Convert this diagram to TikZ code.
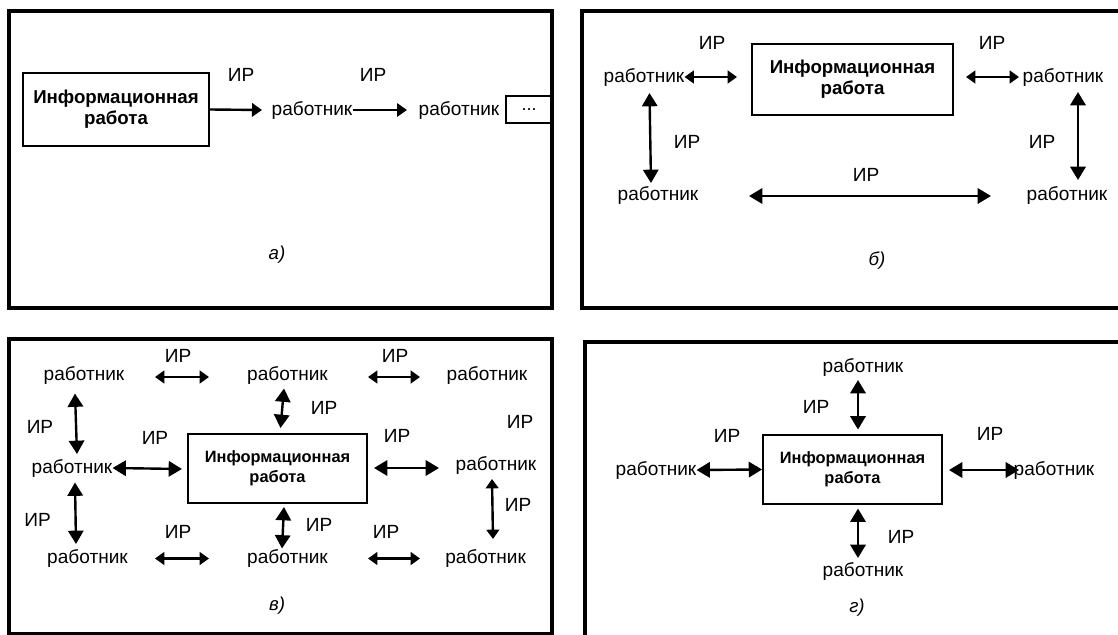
\documentclass[tikz,border=0pt]{standalone}
\usepackage{fontspec}
\setmainfont{Liberation Sans}
\usetikzlibrary{arrows.meta}

\tikzset{
  frame/.style={line width=2.3pt},
  infobox/.style={draw, line width=1.4pt, inner sep=0pt, align=center, font=\fontsize{14}{16}\selectfont\bfseries},
  infosmall/.style={infobox, font=\fontsize{12.3}{15}\selectfont\bfseries},
  worker/.style={inner sep=0pt, font=\fontsize{14.3}{16}\selectfont},
  ir/.style={worker},
  caption/.style={inner sep=0pt, font=\fontsize{14}{16}\selectfont\itshape},
  link/.style={line width=1.8pt, -{Triangle[length=7.5pt,width=10pt]}},
  both/.style={line width=1.8pt, {Triangle[length=7pt,width=9.5pt]}-{Triangle[length=7pt,width=9.5pt]}},
  bigboth/.style={line width=1.8pt, {Triangle[length=10pt,width=11.5pt]}-{Triangle[length=10pt,width=11.5pt]}}
}

\begin{document}
\begin{tikzpicture}[x=0.75pt,y=0.75pt,yscale=-1,xscale=1]
		\clip (0,0) rectangle (1118,635);
		\fill[white] (0,0) rectangle (1118,635);

		% a)
		\draw[frame] (9,11) rectangle (552,308);
		\node[infobox, minimum width=139.5pt, minimum height=54.75pt] (ia) at (116,109.5) {Информационная\\работа};
		\node[worker] (wa1) at (312,110) {работник};
		\node[worker] (wa2) at (459,110) {работник};
		\node[draw, line width=1.4pt, minimum width=34.5pt, minimum height=20.25pt, inner sep=0pt, font=\fontsize{13.5}{16}\selectfont] (dots) at (529,109.5) {...};
		\node[ir] (ira1) at (241,75) {ИР};
		\node[ir] (ira2) at (373,75) {ИР};
		\node[caption] (capa) at (277,255) {а)};
		\coordinate (pa1) at (262,110);
		\coordinate (pa2) at (407,110);
		\draw[link] (ia.east) -- (pa1);
		\draw[link] (wa1.east) -- (pa2);

		% б)
		\draw[frame] (582,11) rectangle (1130,308);
		\node[infobox, minimum width=150.75pt, minimum height=53.25pt] (ib) at (852.5,79.25) {Информационная\\работа};
		\node[worker] (wb1) at (644,77) {работник};
		\node[worker] (wb2) at (1063,77) {работник};
		\node[worker] (wb3) at (658,195) {работник};
		\node[worker] (wb4) at (1067,195) {работник};
		\node[ir] (irb1) at (712,43) {ИР};
		\node[ir] (irb2) at (992,43) {ИР};
		\node[ir] (irb3) at (687,142) {ИР};
		\node[ir] (irb4) at (1042,142) {ИР};
		\node[ir] (irb5) at (866,175) {ИР};
		\node[caption] (capb) at (877,261) {б)};
		\coordinate (pb1) at (737,77);
		\coordinate (pb2) at (966,77);
		\coordinate (pb3) at (1019,77);
		\coordinate (pb4) at (649.5,93);
		\coordinate (pb5) at (651,183);
		\coordinate (pb6) at (1078,92);
		\coordinate (pb7) at (1078,180);
		\coordinate (pb8) at (749,196);
		\coordinate (pb9) at (991,196);
		\draw[both] (wb1.east) -- (pb1);
		\draw[both] (pb2) -- (pb3);
		\draw[bigboth] (pb4) -- (pb5);
		\draw[bigboth] (pb6) -- (pb7);
		\draw[bigboth] (pb8) -- (pb9);

		% в)
		\draw[frame] (9,339) rectangle (552,634);
		\node[infosmall, minimum width=134.25pt, minimum height=51.75pt] (ic) at (277.5,468.5) {Информационная\\работа};
		\node[worker] (wc1) at (84,375) {работник};
		\node[worker] (wc2) at (287.5,375) {работник};
		\node[worker] (wc3) at (487,375) {работник};
		\node[worker] (wc4) at (72,468) {работник};
		\node[worker] (wc5) at (496,465) {работник};
		\node[worker] (wc6) at (87.5,558.5) {работник};
		\node[worker] (wc7) at (287.5,558.5) {работник};
		\node[worker] (wc8) at (485.6,558.5) {работник};
		\node[ir] (irc1) at (178,355.5) {ИР};
		\node[ir] (irc2) at (395,355.5) {ИР};
		\node[ir] (irc3) at (40,427) {ИР};
		\node[ir] (irc4) at (155,438) {ИР};
		\node[ir] (irc5) at (397,436) {ИР};
		\node[ir] (irc6) at (520,421.5) {ИР};
		\node[ir] (irc7) at (324,408) {ИР};
		\node[ir] (irc8) at (37.6,520) {ИР};
		\node[ir] (irc9) at (518,505) {ИР};
		\node[ir] (irc10) at (319,525) {ИР};
		\node[ir] (irc11) at (178,532) {ИР};
		\node[ir] (irc12) at (386,532) {ИР};
		\node[caption] (capc) at (277,606) {в)};
		\coordinate (pc1) at (155,377);
		\coordinate (pc2) at (209,377);
		\coordinate (pc3) at (368,377);
		\coordinate (pc4) at (420,377);
		\coordinate (pc5) at (182,469);
		\coordinate (pc6) at (374,468);
		\coordinate (pc7) at (439,468);
		\coordinate (pc8) at (155,558.5);
		\coordinate (pc9) at (209,558.5);
		\coordinate (pc10) at (368,558.5);
		\coordinate (pc11) at (420,558.5);
		\coordinate (pc12) at (75,393.5);
		\coordinate (pc13) at (77,454);
		\coordinate (pc14) at (75,482.5);
		\coordinate (pc15) at (76,544);
		\coordinate (pc16) at (284,388.5);
		\coordinate (pc17) at (280.5,428);
		\coordinate (pc18) at (284,507);
		\coordinate (pc19) at (282,548.5);
		\coordinate (pc20) at (492,479);
		\coordinate (pc21) at (493,539);
		\draw[both] (pc1) -- (pc2);
		\draw[both] (pc3) -- (pc4);
		\draw[bigboth] (wc4.east) -- (pc5);
		\draw[bigboth] (pc6) -- (pc7);
		\draw[both] (pc8) -- (pc9);
		\draw[both] (pc10) -- (pc11);
		\draw[bigboth] (pc12) -- (pc13);
		\draw[bigboth] (pc14) -- (pc15);
		\draw[bigboth] (pc16) -- (pc17);
		\draw[bigboth] (pc18) -- (pc19);
		\draw[both] (pc20) -- (pc21);

		% г)
		\draw[frame] (585,342) rectangle (1130,645);
		\node[infosmall, minimum width=134.25pt, minimum height=51.75pt] (id) at (852.5,469.5) {Информационная\\работа};
		\node[worker] (wd1) at (863,367) {работник};
		\node[worker] (wd2) at (656,470) {работник};
		\node[worker] (wd3) at (1054,470) {работник};
		\node[worker] (wd4) at (863,571) {работник};
		\node[ir] (ird1) at (816,407) {ИР};
		\node[ir] (ird2) at (727,436) {ИР};
		\node[ir] (ird3) at (990,434) {ИР};
		\node[ir] (ird4) at (901,537) {ИР};
		\node[caption] (capd) at (857,608) {г)};
		\coordinate (pd1) at (858,380);
		\coordinate (pd2) at (858,429.5);
		\coordinate (pd3) at (949,470);
		\coordinate (pd4) at (1019,470);
		\coordinate (pd5) at (858,508.6);
		\coordinate (pd6) at (858,558);
		\draw[bigboth] (pd1) -- (pd2);
		\draw[bigboth] (wd2.east) -- (id.west);
		\draw[bigboth] (pd3) -- (pd4);
		\draw[bigboth] (pd5) -- (pd6);
		\end{tikzpicture}
\end{document}
